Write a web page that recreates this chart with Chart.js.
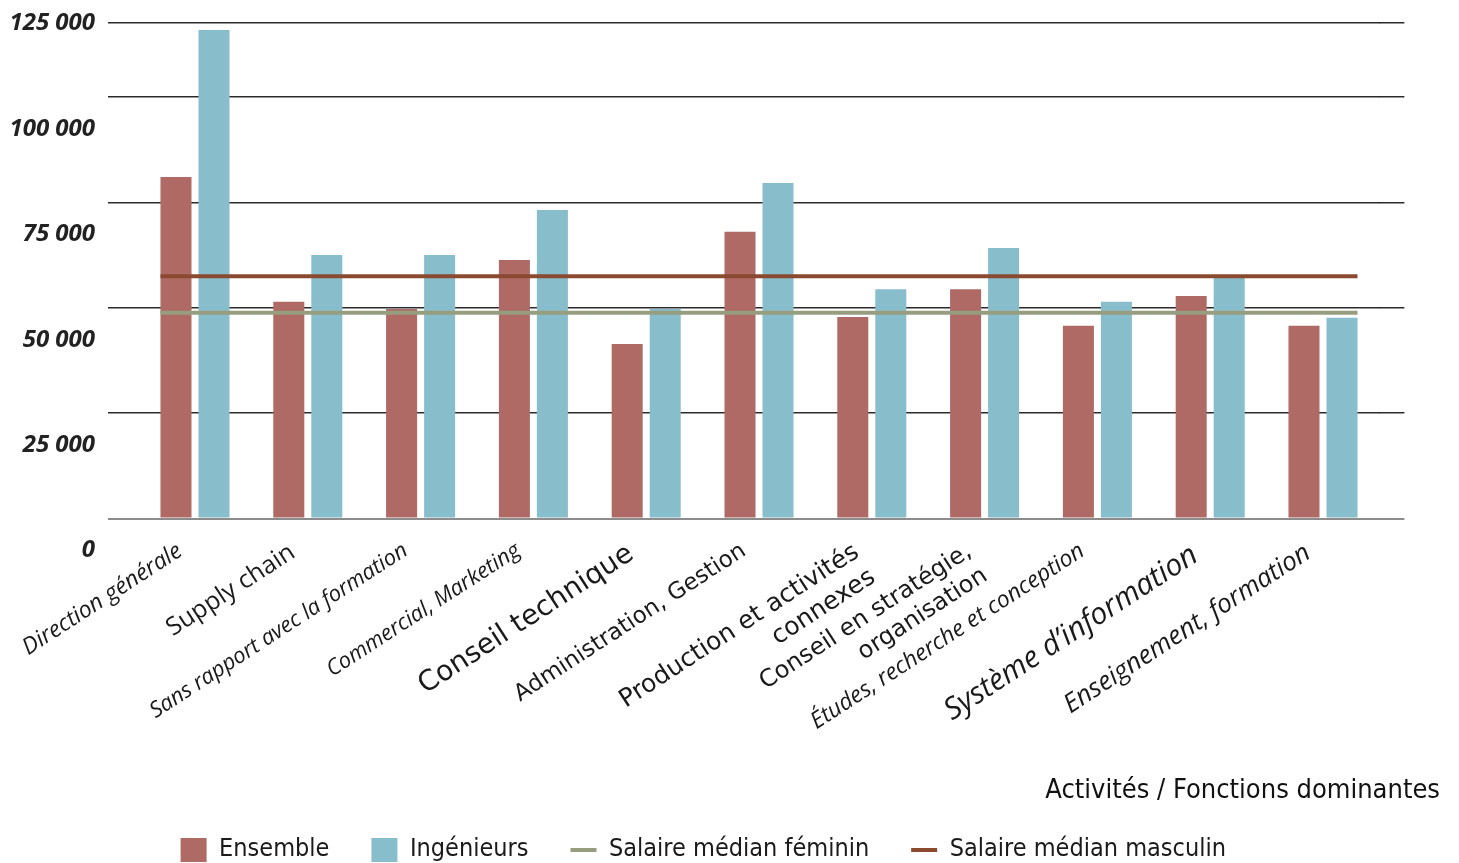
<!DOCTYPE html>
<html lang="fr">
<head>
<meta charset="utf-8">
<title>Salaires par activité</title>
<script src="https://cdn.jsdelivr.net/npm/chart.js@4.4.1/dist/chart.umd.min.js"></script>
<style>
    html, body { margin: 0; padding: 0; background: #fff; overflow: hidden; }
    #wrap { position: absolute; left: 0; top: -40px; width: 1459px; height: 920px; }
</style>
</head>
<body>
<div id="wrap"><canvas id="salaryChart"></canvas></div>
<script>
// Activités / fonctions dominantes
const categories = [
    'Direction générale',
    'Supply chain',
    'Sans rapport avec la formation',
    'Commercial, Marketing',
    'Conseil technique',
    'Administration, Gestion',
    ['Production et activités', 'connexes'],
    ['Conseil en stratégie,', 'organisation'],
    'Études, recherche et conception',
    'Système d’information',
    'Enseignement, formation'
];

// Salaires (euros)
const ensemble = [81000, 51400, 49700, 61300, 41400, 68000, 47800, 54400, 45700, 52800, 45700];
const ingenieurs = [115900, 62500, 62500, 73200, 49700, 79600, 54400, 64200, 51400, 57100, 47600];
const medianFeminin = 48800;
const medianMasculin = 57500;

const yTicks = [0, 25000, 50000, 75000, 100000, 125000];
const frameTop = 117600;

// Each category label has its own type style
const labelFonts = [
    { family: 'Open Sans', size: 23, style: 'italic' },
    { family: 'Open Sans', size: 25 },
    { family: 'Open Sans', size: 22, style: 'italic' },
    { family: 'Open Sans', size: 22, style: 'italic' },
    { family: 'DejaVu Sans', size: 28 },
    { family: 'DejaVu Sans', size: 23 },
    { family: 'DejaVu Sans', size: 25 },
    { family: 'DejaVu Sans', size: 24 },
    { family: 'Open Sans', size: 23, style: 'italic' },
    { family: 'Open Sans', size: 30, style: 'italic' },
    { family: 'Open Sans', size: 26, style: 'italic' }
];

const medianLines = [
    { label: 'Salaire médian féminin', value: medianFeminin, color: '#979e80' },
    { label: 'Salaire médian masculin', value: medianMasculin, color: '#8a4a30' }
];

const formatNumber = (v) => String(v).replace(/\B(?=(\d{3})+(?!\d))/g, ' ');

const setTicks = (scale) => {
    scale.ticks = yTicks.concat([frameTop]).map((v) => ({ value: v }));
};

const gridColor = (ctx) => (ctx.tick && ctx.tick.value === 0 ? '#8c8c8c' : 'rgba(20, 20, 20, 0.9)');
const gridWidth = (ctx) => (ctx.tick && ctx.tick.value === 0 ? 2 : 1.5);

const legendFont = "'DejaVu Sans Condensed', 'Liberation Sans Narrow', sans-serif";

// Median salary lines, running from the first bar's left edge to the last bar's right edge
const medianLinesPlugin = {
    id: 'medianLines',
    afterDatasetsDraw(chart) {
        const yScale = chart.scales.y;
        const first = chart.getDatasetMeta(0).data[0];
        const last = chart.getDatasetMeta(1).data[categories.length - 1];
        const x0 = first.x - first.width / 2;
        const x1 = last.x + last.width / 2;
        const c = chart.ctx;
        c.save();
        c.lineWidth = 4;
        medianLines.forEach((m) => {
            const py = yScale.getPixelForValue(m.value);
            c.strokeStyle = m.color;
            c.beginPath();
            c.moveTo(x0, py);
            c.lineTo(x1, py);
            c.stroke();
        });
        c.restore();
    }
};

const ctx = document.getElementById('salaryChart').getContext('2d');
new Chart(ctx, {
    type: 'bar',
    data: {
        labels: categories,
        datasets: [
            {
                label: 'Ensemble',
                data: ensemble,
                backgroundColor: '#af6a66',
                borderWidth: 0,
                pointStyle: 'rect'
            },
            {
                label: 'Ingénieurs',
                data: ingenieurs,
                backgroundColor: '#88becb',
                borderWidth: 0,
                pointStyle: 'rect'
            }
        ]
    },
    options: {
        responsive: true,
        maintainAspectRatio: false,
        animation: false,
        categoryPercentage: 0.674,
        barPercentage: 0.816,
        layout: {
            padding: { top: 31.6, left: 0, right: 19, bottom: 7.6 }
        },
        plugins: {
            tooltip: { enabled: false },
            legend: {
                position: 'bottom',
                align: 'start',
                fullSize: false,
                labels: {
                    usePointStyle: true,
                    pointStyleWidth: 26,
                    boxHeight: 24,
                    padding: 42,
                    color: '#1a1a1a',
                    font: { family: legendFont, size: 25 },
                    generateLabels: (chart) => {
                        const items = Chart.defaults.plugins.legend.labels.generateLabels(chart);
                        medianLines.forEach((m) => {
                            items.push({
                                text: m.label,
                                fillStyle: m.color,
                                strokeStyle: m.color,
                                fontColor: '#1a1a1a',
                                lineWidth: 4,
                                pointStyle: 'line',
                                hidden: false
                            });
                        });
                        return items;
                    }
                }
            },
            title: {
                display: true,
                text: 'Activités / Fonctions dominantes',
                position: 'bottom',
                align: 'end',
                weight: 500,
                padding: { top: 0, bottom: -12 },
                color: '#111',
                font: { family: legendFont, size: 27, weight: 'normal' }
            }
        },
        scales: {
            x: {
                type: 'category',
                grid: { display: false, drawTicks: false },
                border: { display: false },
                ticks: {
                    autoSkip: false,
                    minRotation: 33,
                    maxRotation: 33,
                    padding: 19,
                    labelOffset: -15,
                    color: '#1a1a1a',
                    font: (c) => labelFonts[c.index] || labelFonts[0]
                },
                afterFit: (scale) => { scale.height = 256.5; }
            },
            y: {
                type: 'linear',
                position: 'left',
                min: 0,
                max: 125000,
                z: 1,
                afterBuildTicks: setTicks,
                border: { display: false },
                grid: {
                    color: gridColor,
                    lineWidth: gridWidth,
                    drawTicks: true,
                    tickLength: 30.6
                },
                ticks: {
                    autoSkip: false,
                    padding: 13,
                    labelOffset: 32,
                    color: '#222',
                    font: { family: 'Open Sans', size: 24, style: 'italic', weight: 'bold' },
                    callback: (v) => (yTicks.includes(v) ? formatNumber(v) : '')
                },
                afterFit: (scale) => { scale.width = 138.6; }
            },
            yRight: {
                type: 'linear',
                position: 'right',
                min: 0,
                max: 125000,
                z: 1,
                afterBuildTicks: setTicks,
                border: { display: false },
                grid: {
                    color: gridColor,
                    lineWidth: gridWidth,
                    drawOnChartArea: false,
                    drawTicks: true,
                    tickLength: 25
                },
                ticks: { display: false },
                afterFit: (scale) => { scale.width = 60.6; }
            }
        }
    },
    plugins: [medianLinesPlugin]
});
</script>
</body>
</html>
